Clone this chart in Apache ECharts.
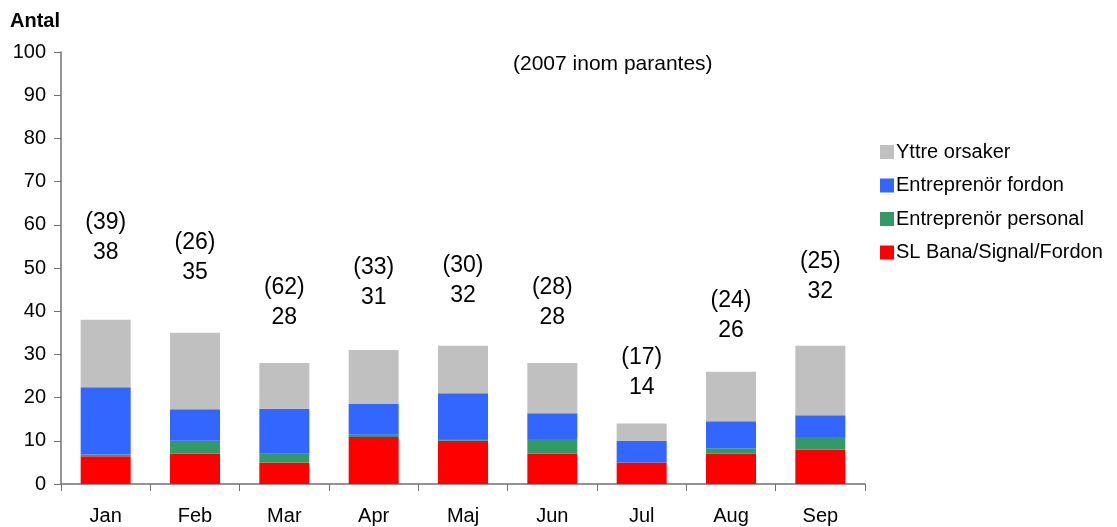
<!DOCTYPE html>
<html>
<head>
<meta charset="utf-8">
<script src="https://cdn.jsdelivr.net/npm/echarts@6/dist/echarts.min.js"></script>
<style>
html,body{margin:0;padding:0;background:#fff;}
#chart{width:1117px;height:527px;}
</style>
</head>
<body>
<div id="chart"></div>
<script>
var months = ['Jan','Feb','Mar','Apr','Maj','Jun','Jul','Aug','Sep'];
var slBana = [6.4, 7, 5, 10.9, 10, 7, 5, 7, 8];
var entPersonal = [0.4, 3, 2, 0.5, 0.4, 3.4, 0, 1.3, 2.9];
var entFordon = [15.6, 7.3, 10.4, 7.1, 10.6, 6, 5, 6.2, 5];
var yttre = [15.6, 17.7, 10.6, 12.5, 11, 11.6, 4, 11.5, 16.1];
var totals2008 = [38, 35, 28, 31, 32, 28, 14, 26, 32];
var totals2007 = [39, 26, 62, 33, 30, 28, 17, 24, 25];
var labelHeights = [57.1, 52.4, 42.0, 46.5, 47.0, 42.0, 25.8, 39.0, 47.9];
var yTicks = [0, 10, 20, 30, 40, 50, 60, 70, 80, 90, 100];

var FONT = 'Liberation Sans, Arial, sans-serif';
var FS = 20;
var chart = echarts.init(document.getElementById('chart'));

function barSeries(name, data, color) {
  return {
    name: name, type: 'bar', stack: 'total', data: data,
    barWidth: 50,
    itemStyle: { color: color },
    emphasis: { disabled: true }
  };
}

chart.setOption({
  animation: false,
  backgroundColor: '#fff',
  textStyle: { fontFamily: FONT },
  grid: { left: 61, right: 252, top: 52, bottom: 43, containLabel: false },
  legend: {
    orient: 'vertical',
    left: 875, top: 137,
    itemWidth: 14, itemHeight: 14, itemGap: 13.5,
    icon: 'rect',
    data: ['Yttre orsaker', 'Entreprenör fordon', 'Entreprenör personal', 'SL Bana/Signal/Fordon'],
    textStyle: { fontFamily: FONT, fontSize: FS, color: '#000', padding: [0, 0, 0, -3] },
    selectedMode: false
  },
  graphic: [
    { type: 'text', left: 10, top: 11, style: { text: 'Antal', font: 'bold ' + FS + 'px ' + FONT, fill: '#000' } },
    { type: 'text', left: 513, top: 54, style: { text: '(2007 inom parantes)', font: '21px ' + FONT, fill: '#000' } }
  ],
  xAxis: {
    type: 'category', data: months,
    axisLine: { lineStyle: { color: '#707070', width: 1.5 } },
    axisTick: { show: true, length: 7, alignWithLabel: false, lineStyle: { color: '#707070' } },
    axisLabel: { color: '#000', fontSize: FS, fontFamily: FONT, margin: 22 },
    splitLine: { show: false }
  },
  yAxis: {
    type: 'value', min: 0, max: 100, interval: 10,
    axisLine: { show: true, lineStyle: { color: '#707070', width: 1.5 } },
    axisTick: { show: true, length: 7, lineStyle: { color: '#707070' } },
    axisLabel: {
      color: '#000', fontSize: FS, fontFamily: FONT, margin: 15,
      formatter: function (v) { return yTicks.indexOf(v) >= 0 ? String(v) : ''; }
    },
    splitLine: { show: false }
  },
  series: [
    barSeries('SL Bana/Signal/Fordon', slBana, '#FF0000'),
    barSeries('Entreprenör personal', entPersonal, '#339966'),
    barSeries('Entreprenör fordon', entFordon, '#3366FF'),
    barSeries('Yttre orsaker', yttre, '#C0C0C0'),
    {
      name: 'labels', type: 'scatter',
      data: labelHeights.map(function (h, i) { return [i, h]; }),
      symbolSize: 2,
      itemStyle: { color: 'rgba(255,255,255,0)', opacity: 1 },
      silent: true,
      label: {
        show: true, position: 'inside',
        fontSize: 23, fontFamily: FONT, color: '#000', opacity: 1, lineHeight: 30,
        formatter: function (p) {
          var i = p.dataIndex;
          return '(' + totals2007[i] + ')\n' + totals2008[i];
        }
      }
    }
  ]
});
</script>
</body>
</html>
